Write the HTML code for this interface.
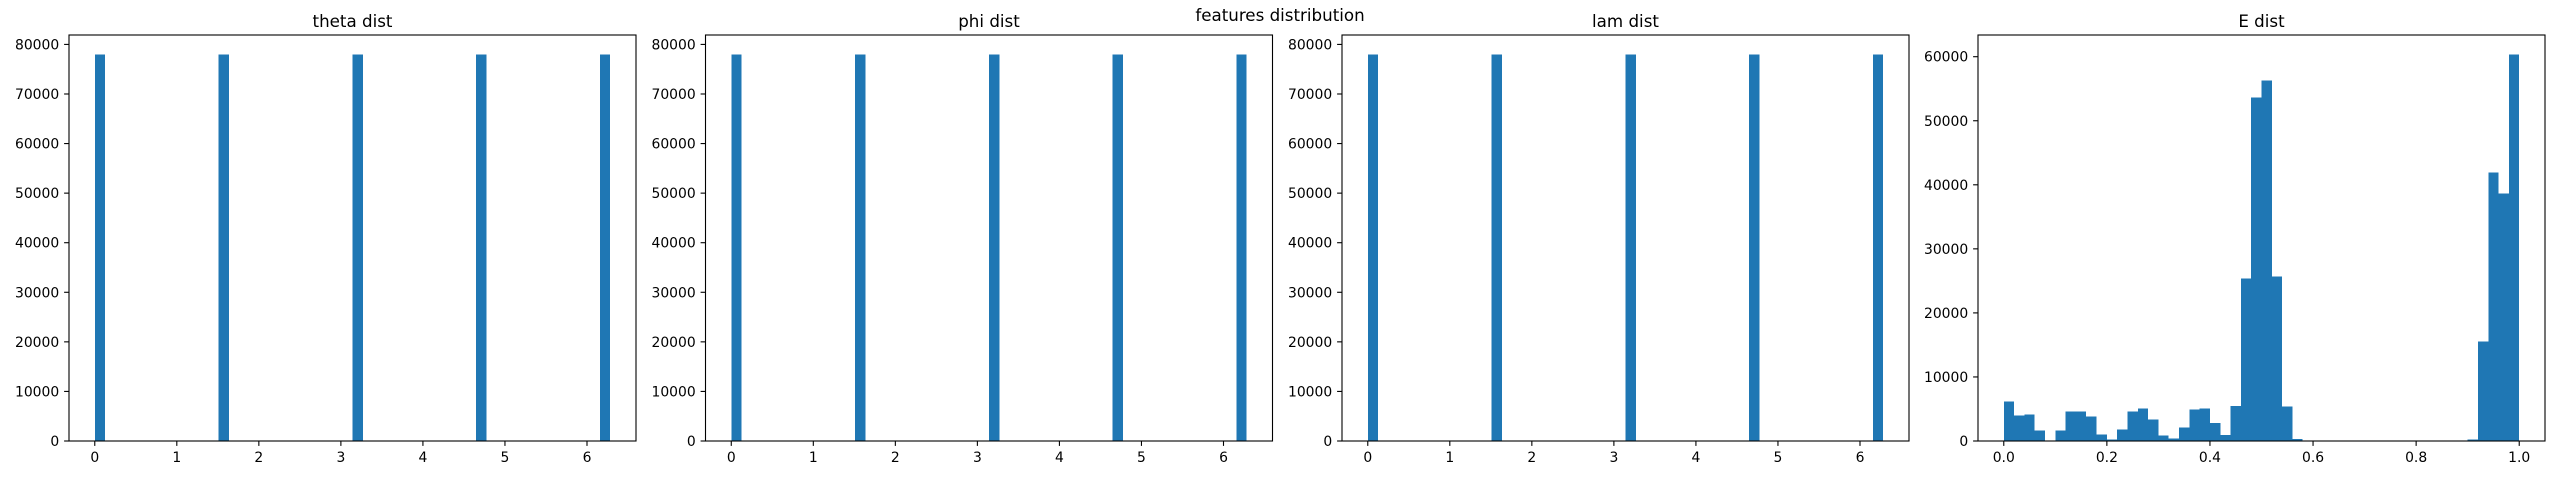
<!DOCTYPE html>
<html><head><meta charset="utf-8"><style>
html,body{margin:0;padding:0;background:#fff;}
svg{display:block;font-family:"DejaVu Sans","Liberation Sans",sans-serif;}
</style></head><body>
<svg id="fig" width="2560" height="480" viewBox="0 0 2560 480" xmlns="http://www.w3.org/2000/svg">
<rect width="2560" height="480" fill="#fff"/>
<text x="1280" y="21" text-anchor="middle" font-size="16.7" fill="#000">features distribution</text>
</svg>
<script>
const angleBinCount = 50;
const angleMax = 6.283185307;
const thetaBins = [0, 12, 25, 37, 49];
const thetaCounts = [78000, 78000, 78000, 78000, 78000];
const phiBins = [0, 12, 25, 37, 49];
const phiCounts = [78000, 78000, 78000, 78000, 78000];
const lamBins = [0, 12, 25, 37, 49];
const lamCounts = [78000, 78000, 78000, 78000, 78000];
const angleXTicks = [0, 1, 2, 3, 4, 5, 6];
const angleYTicks = [0, 10000, 20000, 30000, 40000, 50000, 60000, 70000, 80000];
const eCounts = [6146, 3958, 4114, 1615, 0, 1615, 4583, 4583, 3802, 990,
  208, 1771, 4583, 5052, 3333, 833, 365, 2083, 4896, 5052,
  2812, 940, 5470, 25360, 53640, 56300, 25670, 5360, 300, 0,
  0, 0, 0, 0, 0, 0, 0, 0, 0, 0,
  0, 0, 0, 0, 0, 200, 15500, 41920, 38640, 60370];
const eXTicks = [0.0, 0.2, 0.4, 0.6, 0.8, 1.0];
const eXTickLabels = ["0.0", "0.2", "0.4", "0.6", "0.8", "1.0"];
const eYTicks = [0, 10000, 20000, 30000, 40000, 50000, 60000];

const NS = "http://www.w3.org/2000/svg";
const svg = document.getElementById('fig');
function mk(tag, attrs, parent) {
  const e = document.createElementNS(NS, tag);
  for (const k in attrs) e.setAttribute(k, attrs[k]);
  parent.appendChild(e);
  return e;
}
const TOP = 35, BOT = 441, W = 567;

function panel(key, title, left, xmin, xmax, binW, bins, counts, xTicks, xLabels, yTicks) {
  const g = mk('g', {}, svg);
  
  
  const maxC = Math.max(...counts);
  const ymax = maxC * 1.05;
  const span = xmax - xmin, pad = span * 0.05;
  const x0 = xmin - pad, x1 = xmax + pad;
  const sx = v => left + (v - x0) / (x1 - x0) * W;
  const sy = v => BOT - v / ymax * (BOT - TOP);
  bins.forEach((b, i) => {
    const c = counts[i];
    if (c <= 0) return;
    const lo = xmin + b * binW, hi = lo + binW;
    const r = mk('rect', {x: sx(lo), y: sy(c), width: sx(hi) - sx(lo), height: BOT - sy(c), fill: '#1f77b4', 'shape-rendering': 'crispEdges'}, g);
    
    
  });
  const f = mk('rect', {x: left, y: TOP, width: W, height: BOT - TOP, fill: 'none', stroke: '#000', 'stroke-width': 1.1}, g);
  
  
  xTicks.forEach((t, i) => {
    const x = sx(t);
    mk('line', {x1: x, x2: x, y1: BOT, y2: BOT + 4.9, stroke: '#000', 'stroke-width': 1.1}, g);
    const tx = mk('text', {x: x, y: BOT + 21, 'text-anchor': 'middle', 'font-size': 13.9, fill: '#000'}, g);
    tx.textContent = xLabels[i];
    
    
  });
  yTicks.forEach(t => {
    const y = sy(t);
    mk('line', {x1: left - 4.9, x2: left, y1: y, y2: y, stroke: '#000', 'stroke-width': 1.1}, g);
    const ty = mk('text', {x: left - 9.8, y: y + 5, 'text-anchor': 'end', 'font-size': 13.9, fill: '#000'}, g);
    ty.textContent = String(t);
    
    
  });
  const tt = mk('text', {x: left + W / 2, y: 27, 'text-anchor': 'middle', 'font-size': 16.7, fill: '#000'}, g);
  tt.textContent = title;
  
  
}
const aw = angleMax / angleBinCount;
const aLabels = angleXTicks.map(String);
panel('theta', 'theta dist', 69, 0, angleMax, aw, thetaBins, thetaCounts, angleXTicks, aLabels, angleYTicks);
panel('phi', 'phi dist', 705.5, 0, angleMax, aw, phiBins, phiCounts, angleXTicks, aLabels, angleYTicks);
panel('lam', 'lam dist', 1342, 0, angleMax, aw, lamBins, lamCounts, angleXTicks, aLabels, angleYTicks);
const eBins = eCounts.map((c, i) => i);
panel('e', 'E dist', 1978, 0, 1, 0.02, eBins, eCounts, eXTicks, eXTickLabels, eYTicks);
</script>
</body></html>
